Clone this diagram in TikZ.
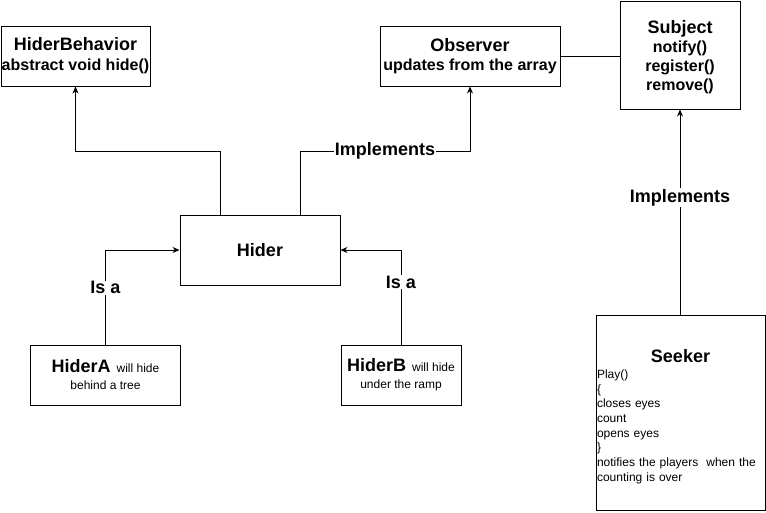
\documentclass[tikz,border=0pt]{standalone}
\usepackage{fontspec}
\setmainfont{Liberation Sans}
\usetikzlibrary{arrows.meta}
\begin{document}
\begin{tikzpicture}[x=1pt,y=-1pt,
  box/.style={draw, line width=1pt, inner sep=0pt, align=center},
  titlef/.style={font=\fontsize{18}{20}\selectfont\bfseries},
  arr/.style={draw, line width=1pt, -{Stealth[length=7pt,width=6pt]}},
  plain/.style={draw, line width=1pt},
  lbl/.style={fill=white, inner sep=1pt, font=\fontsize{18}{20}\selectfont\bfseries}]
\fill[white] (0,0) rectangle (766,512);
\useasboundingbox (0,0) rectangle (766,512);

\node[box, minimum width=149, minimum height=60,
      font=\fontsize{16}{20}\selectfont\bfseries] (hb) at (75.5,56)
  {{\fontsize{18}{20}\selectfont HiderBehavior}\\abstract void hide()};
\node[box, minimum width=180, minimum height=60,
      font=\fontsize{16}{19}\selectfont\bfseries] (obs) at (470,56)
  {{\fontsize{18}{19}\selectfont Observer}\\updates from the array};
\node[box, minimum width=120, minimum height=108] (subj) at (680,55) {};
\node[align=center, inner sep=0pt, font=\fontsize{16}{19}\selectfont\bfseries] (subjtxt)
  at ([yshift=-2pt]subj.center)
  {{\fontsize{18}{19}\selectfont Subject}\\notify()\\register()\\remove()};
\node[box, minimum width=160, minimum height=70, titlef] (hider) at (260,250) {Hider};
\node[box, minimum width=150, minimum height=60,
      font=\fontsize{12}{17}\selectfont] (ha) at (105.5,375)
  {{\fontsize{18}{17}\selectfont\bfseries HiderA}\hspace{6pt}will hide\\behind a tree};
\node[box, minimum width=120, minimum height=60,
      font=\fontsize{12}{17}\selectfont] (hbb) at (401,375)
  {{\fontsize{18}{17}\selectfont\bfseries HiderB}\hspace{6pt}will hide\\under the ramp};
\node[box, minimum width=169, minimum height=195] (seeker) at (680.5,412.5) {};
\node[text width=167pt, inner xsep=1pt, inner ysep=0pt, align=left,
      font=\fontsize{12}{14.7}\selectfont] (seekertxt) at ([yshift=-4pt]seeker.center)
  {\makebox[167pt][c]{\fontsize{18}{20}\selectfont\bfseries Seeker}\\[1.5pt]
   Play()\\\{\\closes eyes\\count\\opens eyes\\\}\\notifies the players\ \ when the\\counting is over};

\coordinate (jy) at (0,151);
\draw[arr] ([xshift=-40pt]hider.north) -- ([xshift=-40pt]hider.north |- jy) -| (hb.south);
\draw[arr] ([xshift=40pt]hider.north) -- ([xshift=40pt]hider.north |- jy)
  -| node[lbl, pos=0.25] {Implements} (obs.south);
\draw[arr] (ha.north) |- node[lbl, pos=0.3] {Is a} (hider.west);
\draw[arr] (hbb.north) |- node[lbl, pos=0.33] {Is a} (hider.east);
\draw[arr] (seeker.north -| subj.south) -- node[lbl, pos=0.57] {Implements} (subj.south);
\draw[plain] (obs.east) -- (obs.east -| subj.west);
\end{tikzpicture}
\end{document}
